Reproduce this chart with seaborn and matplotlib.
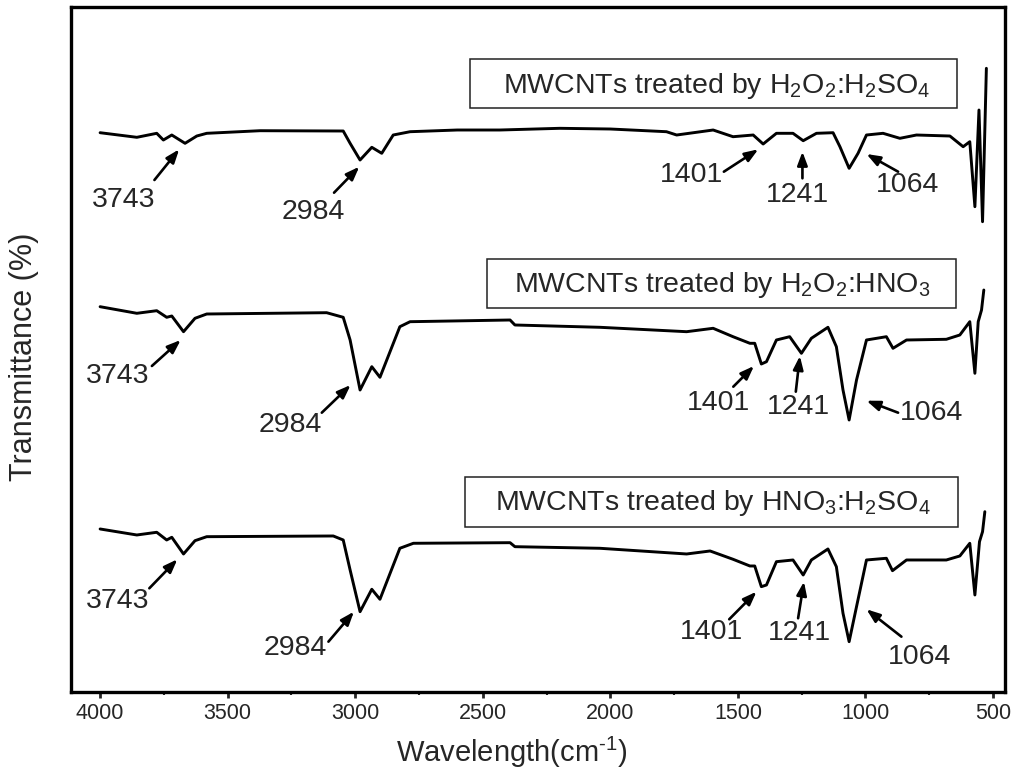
import matplotlib
matplotlib.use("Agg")
import matplotlib.pyplot as plt
from matplotlib.patches import Rectangle
import pandas as pd
import seaborn as sns

# FTIR spectra of treated MWCNTs (wavenumber in cm^-1, transmittance in a.u., stacked)
wn_h2o2_h2so4 = [4000, 3856, 3778, 3752, 3719, 3667, 3621, 3582, 3373, 3047, 3020, 2981,
                 2935, 2896, 2851, 2785, 2600, 2433, 2198, 2000, 1780, 1740, 1597, 1519,
                 1440, 1401, 1349, 1284, 1244, 1192, 1127, 1100, 1064, 1029, 996, 931,
                 865, 800, 669, 617, 591, 571, 555, 541, 526]
tr_h2o2_h2so4 = [55.93, 55.47, 55.87, 55.2, 55.7, 54.87, 55.6, 55.87, 56.13, 56.1, 54.87, 53.2,
                 54.47, 53.87, 55.7, 56.03, 56.2, 56.2, 56.37, 56.3, 56.03, 55.7, 56.2, 55.53,
                 55.7, 54.8, 55.87, 55.87, 55.13, 55.87, 55.93, 54.53, 52.37, 53.87, 55.7, 55.87,
                 55.37, 55.7, 55.6, 54.53, 55.03, 48.53, 58.2, 47.03, 62.37]

wn_h2o2_hno3 = [4000, 3856, 3778, 3739, 3719, 3673, 3628, 3582, 3112, 3047, 3020, 2981,
                2935, 2903, 2825, 2785, 2393, 2374, 2041, 1701, 1597, 1519, 1453, 1434,
                1408, 1388, 1349, 1297, 1251, 1212, 1147, 1114, 1088, 1064, 1035, 996,
                918, 892, 839, 683, 630, 591, 571, 558, 545, 536]
tr_h2o2_hno3 = [38.53, 37.87, 38.13, 37.47, 37.6, 36.03, 37.37, 37.8, 37.93, 37.47, 35.2, 30.2,
                32.53, 31.47, 36.53, 37.03, 37.2, 36.7, 36.47, 36.03, 36.37, 35.53, 34.87, 34.87,
                32.8, 33.03, 35.2, 35.53, 33.87, 35.37, 36.47, 34.53, 30.2, 27.2, 31.2, 35.2,
                35.53, 34.37, 35.2, 35.27, 35.7, 37.03, 31.87, 37.03, 38.2, 40.2]

wn_hno3_h2so4 = [4000, 3856, 3778, 3739, 3719, 3673, 3628, 3582, 3086, 3047, 3020, 2981,
                 2935, 2903, 2825, 2772, 2393, 2374, 2041, 1701, 1609, 1519, 1453, 1434,
                 1408, 1388, 1349, 1284, 1244, 1212, 1147, 1114, 1088, 1064, 1035, 996,
                 918, 894, 839, 683, 630, 591, 571, 553, 541, 532]
tr_hno3_h2so4 = [16.3, 15.7, 15.97, 15.2, 15.47, 13.8, 15.13, 15.53, 15.6, 15.2, 12.2, 8.03,
                 10.27, 9.27, 14.37, 14.87, 14.93, 14.53, 14.37, 13.8, 14.1, 13.27, 12.6, 12.6,
                 10.53, 10.7, 13.03, 13.2, 11.7, 13.2, 14.3, 12.53, 7.87, 5.03, 8.53, 13.2,
                 13.37, 12.13, 13.2, 13.2, 13.6, 14.87, 9.7, 15.03, 16.03, 18.03]

sample_names = [r"MWCNTs treated by H$_2$O$_2$:H$_2$SO$_4$",
                r"MWCNTs treated by H$_2$O$_2$:HNO$_3$",
                r"MWCNTs treated by HNO$_3$:H$_2$SO$_4$"]
peak_labels = ["3743", "2984", "1401", "1241", "1064"]

# label text anchor (centre x, baseline y) and frame (x0, x1, y0, y1)
name_pos = [(1582, 59.87), (1563, 40.03), (1598, 18.2)]
name_box = [(2550, 642, 58.4, 63.3), (2484, 646, 38.4, 43.3), (2570, 638, 16.5, 21.5)]
# per spectrum: (text position), (arrow tail), (arrow tip) for each peak
peak_text = [
    [(3909, 49.2), (3164, 48.03), (1681, 51.7), (1266, 49.7), (833, 50.7)],
    [(3932, 31.6), (3256, 26.7), (1577, 28.93), (1264, 28.53), (741, 27.87)],
    [(3932, 9.13), (3236, 4.37), (1603, 6.03), (1257, 5.93), (787, 3.53)],
]
peak_tail = [
    [(3787, 51.2), (3083, 49.93), (1555, 52.03), (1247, 51.37), (872, 52.03)],
    [(3797, 32.6), (3131, 27.93), (1518, 30.53), (1273, 30.03), (872, 27.93)],
    [(3807, 10.37), (3105, 5.03), (1534, 7.27), (1264, 7.37), (859, 5.53)],
]
peak_tip = [
    [(3690, 54.27), (2984, 52.53), (1420, 54.27), (1247, 54.03), (996, 53.8)],
    [(3684, 35.2), (3018, 30.7), (1437, 32.6), (1257, 33.6), (996, 29.13)],
    [(3697, 13.27), (3005, 8.03), (1427, 10.03), (1241, 11.03), (996, 8.27)],
]

sns.set_style("ticks")
plt.rcParams["font.family"] = ["Liberation Sans", "DejaVu Sans"]
plt.rcParams["mathtext.fontset"] = "custom"
plt.rcParams["mathtext.rm"] = "Liberation Sans"
plt.rcParams["mathtext.it"] = "Liberation Sans:italic"

fig = plt.figure(figsize=(10.13, 7.71), dpi=100)
ax = fig.add_axes([0.0701, 0.1025, 0.922, 0.8884])

spectra = [(wn_h2o2_h2so4, tr_h2o2_h2so4),
           (wn_h2o2_hno3, tr_h2o2_hno3),
           (wn_hno3_h2so4, tr_hno3_h2so4)]
for wn, tr in spectra:
    df = pd.DataFrame({"wn": wn, "tr": tr})
    sns.lineplot(data=df, x="wn", y="tr", sort=False, estimator=None,
                 color="black", lw=2.1, ax=ax)

for i in range(3):
    x0, x1, y0, y1 = name_box[i]
    ax.add_patch(Rectangle((x1, y0), x0 - x1, y1 - y0, fill=False,
                           ec="#222222", lw=1.1, zorder=3))
    ax.text(name_pos[i][0], name_pos[i][1], sample_names[i], fontsize=20.5,
            ha="center", va="baseline")
    for lab, tp, tl, tip in zip(peak_labels, peak_text[i], peak_tail[i], peak_tip[i]):
        ax.text(tp[0], tp[1], lab, fontsize=20.5, ha="center", va="center")
        ax.annotate("", xy=tip, xytext=tl,
                    arrowprops=dict(arrowstyle="-|>,head_length=0.8,head_width=0.3",
                                    color="black", lw=1.9, shrinkA=0, shrinkB=0))

ax.set_xlim(4114, 453)
ax.set_ylim(0.0, 68.5)
ax.set_xticks([4000, 3500, 3000, 2500, 2000, 1500, 1000, 500])
ax.set_xticks([3750, 3250, 2750, 2250, 1750, 1250, 750], minor=True)
ax.set_yticks([])
ax.tick_params(axis="x", which="major", direction="out", length=4, width=2,
               labelsize=15.5, pad=4)
ax.tick_params(axis="x", which="minor", direction="out", length=2.5, width=1.5)
for s in ax.spines.values():
    s.set_linewidth(2.4)
    s.set_color("black")

ax.set_xlabel("Wavelength(cm$^{\u2010 1}$)", fontsize=21)
ax.set_ylabel("Transmittance (%)", fontsize=22)
ax.xaxis.set_label_coords(0.4716, -0.062)
ax.yaxis.set_label_coords(-0.0348, 0.489)

fig.savefig("out.png", dpi=100)
